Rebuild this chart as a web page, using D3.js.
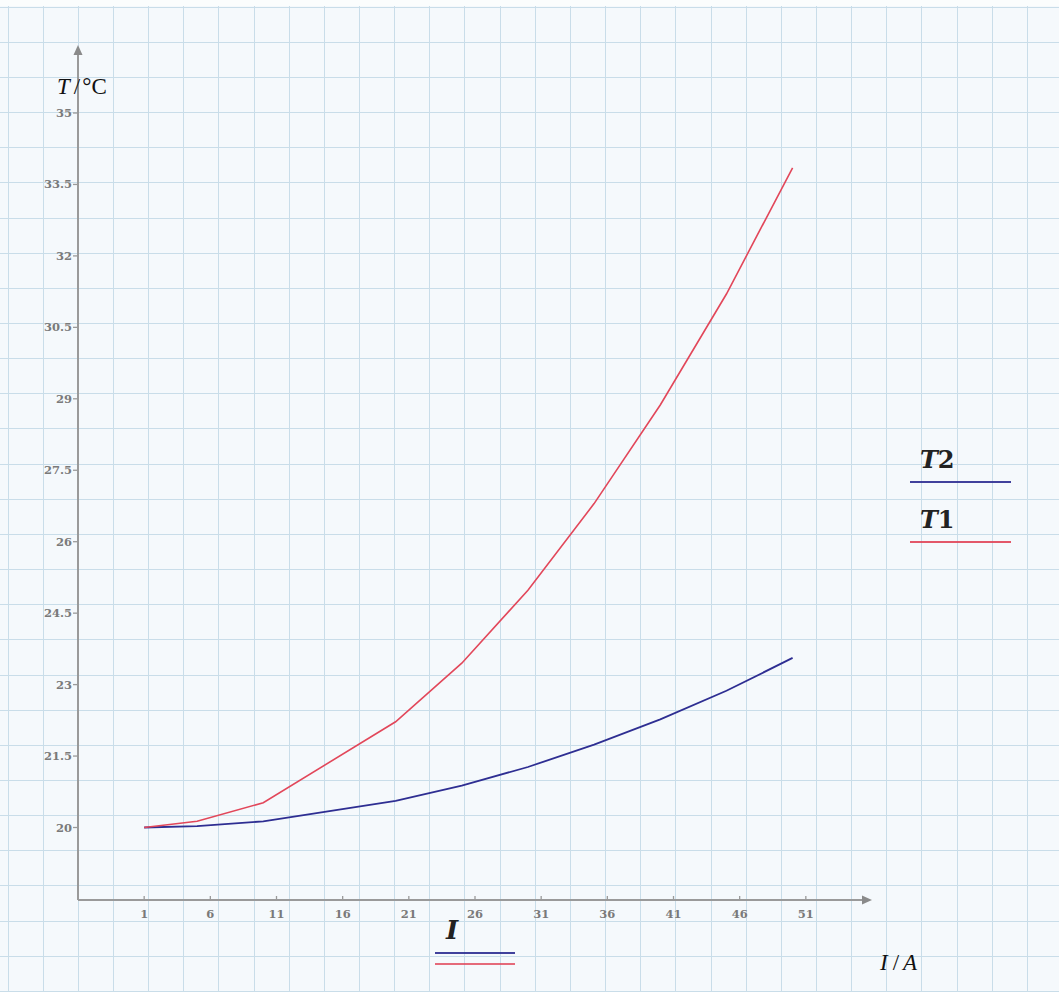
<!DOCTYPE html>
<html><head><meta charset="utf-8">
<script src="https://cdn.jsdelivr.net/npm/d3@7"></script>
<style>html,body{margin:0;padding:0;background:#f6fafc;}svg{display:block;}</style>
</head><body><svg id="c" width="1059" height="992"></svg>
<script>
const currents = [1, 5, 10, 20, 25, 30, 35, 40, 45, 50];
const T1 = [20.0, 20.13, 20.52, 22.22, 23.45, 24.98, 26.8, 28.87, 31.2, 33.85];
const T2 = [20.0, 20.03, 20.13, 20.56, 20.88, 21.27, 21.74, 22.27, 22.87, 23.56];
const xTicks = [1, 6, 11, 16, 21, 26, 31, 36, 41, 46, 51];
const yTicks = [20, 21.5, 23, 24.5, 26, 27.5, 29, 30.5, 32, 33.5, 35];
const seriesNames = ["T2", "T1"];

const W = 1059, H = 992;
const svg = d3.select("#c");
svg.append("rect").attr("width", W).attr("height", H).attr("fill", "#f5f9fc");
svg.append("rect").attr("width", W).attr("height", 6).attr("fill", "#fbfdfd");

// graph-paper grid
const step = 35.15;
const gGrid = svg.append("g").attr("stroke", "#c9dde9").attr("stroke-width", 1.2).attr("shape-rendering", "crispEdges");
d3.range(7.5, W, step).forEach(x => { const p = Math.round(x) + 0.5; gGrid.append("line").attr("x1", p).attr("x2", p).attr("y1", 6).attr("y2", H); });
d3.range(6.7, H, step).forEach(y => { const p = Math.round(y) + 0.5; gGrid.append("line").attr("y1", p).attr("y2", p).attr("x1", 0).attr("x2", W); });

const x = d3.scaleLinear().domain([-4, 56]).range([78, 872]);
const y = d3.scaleLinear().domain([20, 35]).range([827.5, 113]);
const x0 = 78, y0 = 900, yTop = 45, xRight = 872;

const axisColor = "#9a9a9a";
svg.append("line").attr("x1", x0).attr("x2", x0).attr("y1", y0).attr("y2", yTop + 8).attr("stroke", axisColor).attr("stroke-width", 2);
svg.append("line").attr("x1", x0).attr("x2", xRight - 8).attr("y1", y0).attr("y2", y0).attr("stroke", axisColor).attr("stroke-width", 2);
svg.append("path").attr("d", `M${x0},${yTop} L${x0-4.5},${yTop+10} L${x0+4.5},${yTop+10} Z`).attr("fill", "#8a8a8a");
svg.append("path").attr("d", `M${xRight},${y0} L${xRight-10},${y0-4.5} L${xRight-10},${y0+4.5} Z`).attr("fill", "#8a8a8a");

const tickFont = "'DejaVu Serif', serif";
const gy = svg.append("g");
yTicks.forEach(v => {
  gy.append("line").attr("x1", x0 - 5).attr("x2", x0).attr("y1", y(v)).attr("y2", y(v)).attr("stroke", axisColor).attr("stroke-width", 1.3);
  gy.append("text").attr("x", x0 - 6).attr("y", y(v)).attr("dy", "0.35em").attr("text-anchor", "end")
    .attr("font-family", tickFont).attr("font-weight", "bold").attr("font-size", 11.5).attr("fill", "#7a7a7a").text(String(v));
});
const gx = svg.append("g");
xTicks.forEach(v => {
  gx.append("line").attr("x1", x(v)).attr("x2", x(v)).attr("y1", y0 - 4).attr("y2", y0 + 1).attr("stroke", axisColor).attr("stroke-width", 1.3);
  gx.append("text").attr("x", x(v)).attr("y", y0 + 14).attr("dy", "0.35em").attr("text-anchor", "middle")
    .attr("font-family", tickFont).attr("font-weight", "bold").attr("font-size", 11.5).attr("fill", "#7a7a7a").text(String(v));
});

const colors = {T1: "#e2475a", T2: "#2e2e92"};
const line = d3.line().x(d => x(d[0])).y(d => y(d[1]));
svg.append("path").datum(currents.map((c, i) => [c, T2[i]])).attr("d", line).attr("fill", "none").attr("stroke", colors.T2).attr("stroke-width", 1.8);
svg.append("path").datum(currents.map((c, i) => [c, T1[i]])).attr("d", line).attr("fill", "none").attr("stroke", colors.T1).attr("stroke-width", 1.6);

const mathFont = "'DejaVu Serif', 'Liberation Serif', serif";
const tl = svg.append("text").attr("x", 57).attr("y", 94).attr("font-family", "'Liberation Serif', serif").attr("font-size", 23).attr("fill", "#111");
tl.append("tspan").attr("font-style", "italic").text("T");
tl.append("tspan").attr("dx", 4).text("/");
tl.append("tspan").attr("dx", 2).text("°C");
const il = svg.append("text").attr("x", 880).attr("y", 970).attr("font-family", "'Liberation Serif', serif").attr("font-size", 23).attr("fill", "#111");
il.append("tspan").attr("font-style", "italic").text("I");
il.append("tspan").attr("dx", 5).text("/");
il.append("tspan").attr("dx", 4).attr("font-style", "italic").text("A");

const legY = {T2: 468, T1: 528};
const lineY = {T2: 482, T1: 542};
seriesNames.forEach(n => {
  const t = svg.append("text").attr("x", 920).attr("y", legY[n]).attr("font-family", mathFont).attr("font-weight", "bold").attr("font-size", 24).attr("fill", "#222");
  t.append("tspan").attr("font-style", "italic").text("T");
  t.append("tspan").text(n.slice(1));
  svg.append("line").attr("x1", 910).attr("x2", 1011).attr("y1", lineY[n]).attr("y2", lineY[n]).attr("stroke", colors[n]).attr("stroke-width", 2.2).attr("opacity", 0.9);
});

svg.append("text").attr("x", 446).attr("y", 939).attr("font-family", mathFont).attr("font-style", "italic").attr("font-weight", "bold").attr("font-size", 26).attr("fill", "#222").text("I");
svg.append("line").attr("x1", 435).attr("x2", 515).attr("y1", 953).attr("y2", 953).attr("stroke", colors.T2).attr("stroke-width", 2.2).attr("opacity", 0.9);
svg.append("line").attr("x1", 435).attr("x2", 515).attr("y1", 964).attr("y2", 964).attr("stroke", colors.T1).attr("stroke-width", 2.2).attr("opacity", 0.8);
</script></body></html>
